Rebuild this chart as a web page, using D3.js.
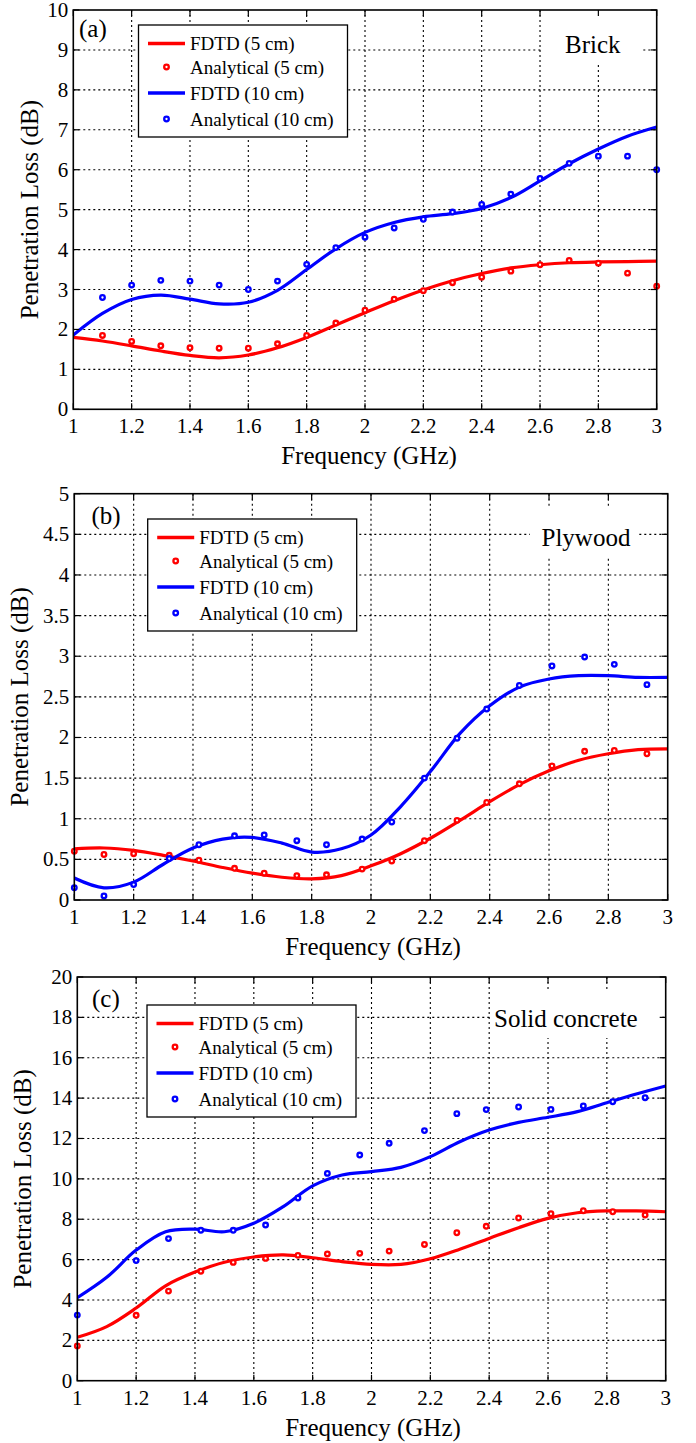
<!DOCTYPE html>
<html lang="en">
<head>
<meta charset="utf-8">
<script src="https://d3js.org/d3.v7.min.js"></script>
<style>
  body { margin: 0; background: #fff; }
</style>
</head>
<body>
<svg id="chart"></svg>
<script type="text/javascript">
// frequency samples of the FDTD curves (GHz)
const fdtdFreq = [1.0, 1.1, 1.2, 1.3, 1.4, 1.5, 1.6, 1.7, 1.8, 1.9, 2.0,
                  2.1, 2.2, 2.3, 2.4, 2.5, 2.6, 2.7, 2.8, 2.9, 3.0];
const xTicks = [1, 1.2, 1.4, 1.6, 1.8, 2, 2.2, 2.4, 2.6, 2.8, 3];

// (a) brick
const brickFdtd5  = [1.80, 1.71, 1.59, 1.46, 1.35, 1.29, 1.36, 1.54, 1.80, 2.11, 2.42,
                     2.72, 2.99, 3.22, 3.40, 3.54, 3.62, 3.67, 3.69, 3.70, 3.71];
const brickFdtd10 = [1.86, 2.40, 2.75, 2.86, 2.76, 2.64, 2.68, 2.98, 3.50, 4.02, 4.43,
                     4.68, 4.82, 4.90, 5.03, 5.30, 5.72, 6.15, 6.52, 6.84, 7.07];
const brickAnaFreq = [1.1, 1.2, 1.3, 1.4, 1.5, 1.6, 1.7, 1.8, 1.9, 2.0,
                      2.1, 2.2, 2.3, 2.4, 2.5, 2.6, 2.7, 2.8, 2.9, 3.0];
const brickAna5  = [1.85, 1.70, 1.59, 1.54, 1.53, 1.53, 1.64, 1.85, 2.16, 2.48,
                    2.76, 2.97, 3.17, 3.31, 3.46, 3.62, 3.73, 3.66, 3.41, 3.08];
const brickAna10 = [2.80, 3.11, 3.23, 3.21, 3.11, 3.00, 3.21, 3.63, 4.05, 4.31,
                    4.54, 4.76, 4.94, 5.13, 5.39, 5.78, 6.16, 6.34, 6.34, 6.00];
const brickYTicks = [0, 1, 2, 3, 4, 5, 6, 7, 8, 9, 10];

// (b) plywood
const plyFdtd5  = [0.63, 0.64, 0.61, 0.55, 0.48, 0.40, 0.33, 0.28, 0.26, 0.30, 0.42,
                   0.57, 0.76, 0.98, 1.21, 1.42, 1.59, 1.72, 1.80, 1.85, 1.86];
const plyFdtd10 = [0.27, 0.15, 0.22, 0.44, 0.64, 0.75, 0.77, 0.70, 0.59, 0.63, 0.80,
                   1.15, 1.58, 2.05, 2.39, 2.62, 2.72, 2.76, 2.76, 2.74, 2.74];
const plyAnaFreq = [1.00, 1.10, 1.20, 1.32, 1.42, 1.54, 1.64, 1.75, 1.85, 1.97,
                    2.07, 2.18, 2.29, 2.39, 2.50, 2.61, 2.72, 2.82, 2.93];
const plyAna5  = [0.60, 0.56, 0.57, 0.55, 0.49, 0.39, 0.33, 0.30, 0.31, 0.38,
                  0.48, 0.73, 0.98, 1.20, 1.43, 1.65, 1.83, 1.84, 1.80];
const plyAna10 = [0.15, 0.05, 0.19, 0.51, 0.68, 0.79, 0.80, 0.73, 0.68, 0.75,
                  0.96, 1.50, 1.99, 2.35, 2.64, 2.88, 2.99, 2.90, 2.65];
const plyYTicks = [0, 0.5, 1, 1.5, 2, 2.5, 3, 3.5, 4, 4.5, 5];

// (c) solid concrete
const concFdtd5  = [2.15, 2.68, 3.60, 4.70, 5.38, 5.87, 6.13, 6.23, 6.09, 5.90, 5.76,
                    5.76, 6.04, 6.51, 7.05, 7.58, 8.04, 8.32, 8.41, 8.41, 8.37];
const concFdtd10 = [4.11, 5.12, 6.47, 7.38, 7.51, 7.38, 7.80, 8.62, 9.65, 10.19, 10.36,
                    10.57, 11.10, 11.84, 12.42, 12.80, 13.05, 13.33, 13.77, 14.20, 14.60];
const concAnaFreq = [1.00, 1.20, 1.31, 1.42, 1.53, 1.64, 1.75, 1.85, 1.96,
                     2.06, 2.18, 2.29, 2.39, 2.50, 2.61, 2.72, 2.82, 2.93];
const concAna5  = [1.72, 3.24, 4.44, 5.42, 5.86, 6.06, 6.21, 6.28, 6.31,
                   6.42, 6.75, 7.33, 7.65, 8.06, 8.27, 8.42, 8.37, 8.21];
const concAna10 = [3.25, 5.95, 7.04, 7.45, 7.45, 7.71, 9.05, 10.27, 11.18,
                   11.76, 12.39, 13.23, 13.43, 13.56, 13.44, 13.61, 13.82, 14.02];
const concYTicks = [0, 2, 4, 6, 8, 10, 12, 14, 16, 18, 20];

const legendLabels = ["FDTD (5 cm)", "Analytical (5 cm)", "FDTD (10 cm)", "Analytical (10 cm)"];
const RED = "#ff0000", BLUE = "#0000ff";
const FONT = "Liberation Serif, Times New Roman, Times, serif";

const width = 696, height = 1443;
const svg = d3.select("#chart").attr("width", width).attr("height", height)
    .attr("font-family", FONT);
svg.append("rect").attr("width", width).attr("height", height).attr("fill", "#fff");

const panels = [
  { id: "a", tag: "(a)", name: "Brick", yMax: 10, yTicks: brickYTicks,
    box: [73.3, 656.7, 10, 409.3], f5: brickFdtd5, f10: brickFdtd10,
    anaX: brickAnaFreq, a5: brickAna5, a10: brickAna10,
    tagPos: [79, 37], namePos: [565, 53], nameBg: [541, 10, 102, 55],
    legend: [138.5, 25], ylabX: 29, xlabX: 369 },
  { id: "b", tag: "(b)", name: "Plywood", yMax: 5, yTicks: plyYTicks,
    box: [74.3, 667.7, 493.7, 900], f5: plyFdtd5, f10: plyFdtd10,
    anaX: plyAnaFreq, a5: plyAna5, a10: plyAna10,
    tagPos: [91.5, 524], namePos: [541.5, 546], nameBg: [530, 507, 107, 50],
    legend: [147.7, 519], ylabX: 19, xlabX: 373 },
  { id: "c", tag: "(c)", name: "Solid concrete", yMax: 20, yTicks: concYTicks,
    box: [77.3, 665.7, 977, 1380.7], f5: concFdtd5, f10: concFdtd10,
    anaX: concAnaFreq, a5: concAna5, a10: concAna10,
    tagPos: [92, 1007], namePos: [494, 1027], nameBg: [491, 990, 169, 48],
    legend: [147, 1005], ylabX: 22.5, xlabX: 373 }
];

panels.forEach(drawPanel);

function drawPanel(p) {
  const [x0, x1, y0, y1] = p.box;
  const x = d3.scaleLinear().domain([1, 3]).range([x0, x1]);
  const y = d3.scaleLinear().domain([0, p.yMax]).range([y1, y0]);
  const g = svg.append("g");

  // dotted grid
  g.selectAll(".gx").data(xTicks.slice(1, -1)).enter().append("line")
    .attr("x1", d => x(d)).attr("x2", d => x(d)).attr("y1", y0).attr("y2", y1)
    .attr("stroke", "#000").attr("stroke-width", 1.1).attr("stroke-dasharray", "2,3");
  g.selectAll(".gy").data(p.yTicks.slice(1, -1)).enter().append("line")
    .attr("y1", d => y(d)).attr("y2", d => y(d)).attr("x1", x0).attr("x2", x1)
    .attr("stroke", "#000").attr("stroke-width", 1.1).attr("stroke-dasharray", "2,3");

  // white patch behind the material name
  g.append("rect").attr("x", p.nameBg[0]).attr("y", p.nameBg[1])
    .attr("width", p.nameBg[2]).attr("height", p.nameBg[3]).attr("fill", "#fff");

  // data
  g.append("clipPath").attr("id", "clip-" + p.id).append("rect")
    .attr("x", x0).attr("y", y0).attr("width", x1 - x0).attr("height", y1 - y0);
  const line = d3.line().x(d => x(d[0])).y(d => y(d[1])).curve(d3.curveCatmullRom.alpha(0.5));
  const series = [
    { line: p.f5, ana: p.a5, color: RED },
    { line: p.f10, ana: p.a10, color: BLUE }
  ];
  series.forEach(s => {
    g.append("path")
      .datum(d3.zip(fdtdFreq, s.line))
      .attr("d", line)
      .attr("clip-path", "url(#clip-" + p.id + ")")
      .attr("fill", "none").attr("stroke", s.color).attr("stroke-width", 3.2);
    g.append("g").selectAll("circle")
      .data(d3.zip(p.anaX, s.ana)).enter().append("circle")
      .attr("cx", d => x(d[0])).attr("cy", d => y(d[1])).attr("r", 2.3)
      .attr("fill", "#fff").attr("stroke", s.color).attr("stroke-width", 2.3);
  });

  // frame and inward ticks on all sides
  g.append("rect").attr("x", x0).attr("y", y0).attr("width", x1 - x0).attr("height", y1 - y0)
    .attr("fill", "none").attr("stroke", "#000").attr("stroke-width", 1.6);
  const tk = 6;
  xTicks.forEach(t => {
    g.append("line").attr("x1", x(t)).attr("x2", x(t)).attr("y1", y1).attr("y2", y1 - tk)
      .attr("stroke", "#000").attr("stroke-width", 1.2);
    g.append("line").attr("x1", x(t)).attr("x2", x(t)).attr("y1", y0).attr("y2", y0 + tk)
      .attr("stroke", "#000").attr("stroke-width", 1.2);
  });
  p.yTicks.forEach(t => {
    g.append("line").attr("y1", y(t)).attr("y2", y(t)).attr("x1", x0).attr("x2", x0 + tk)
      .attr("stroke", "#000").attr("stroke-width", 1.2);
    g.append("line").attr("y1", y(t)).attr("y2", y(t)).attr("x1", x1).attr("x2", x1 - tk)
      .attr("stroke", "#000").attr("stroke-width", 1.2);
  });

  // tick labels
  g.selectAll(".xl").data(xTicks).enter().append("text")
    .attr("x", d => x(d)).attr("y", y1 + 24)
    .attr("text-anchor", "middle").attr("font-size", 21).attr("font-family", FONT)
    .text(d => String(+d.toFixed(1)));
  g.selectAll(".yl").data(p.yTicks).enter().append("text")
    .attr("x", x0 - 5).attr("y", d => y(d) + 7)
    .attr("text-anchor", "end").attr("font-size", 21).attr("font-family", FONT)
    .text(d => String(d));

  // axis titles
  g.append("text").attr("x", p.xlabX).attr("y", y1 + 55)
    .attr("text-anchor", "middle").attr("font-size", 25).attr("font-family", FONT)
    .text("Frequency (GHz)");
  g.append("text")
    .attr("transform", "translate(" + p.ylabX + "," + ((y0 + y1) / 2) + ") rotate(-90)")
    .attr("text-anchor", "middle").attr("dominant-baseline", "central")
    .attr("font-size", 25).attr("font-family", FONT).text("Penetration Loss (dB)");

  g.append("text").attr("x", p.tagPos[0]).attr("y", p.tagPos[1])
    .attr("font-size", 25).attr("font-family", FONT).text(p.tag);
  g.append("text").attr("x", p.namePos[0]).attr("y", p.namePos[1])
    .attr("font-size", 25).attr("font-family", FONT).text(p.name);

  // legend
  const [lx, ly] = p.legend;
  const lg = g.append("g").attr("transform", "translate(" + lx + "," + ly + ")");
  lg.append("rect").attr("width", 209).attr("height", 112)
    .attr("fill", "#fff").attr("stroke", "#000").attr("stroke-width", 1.3);
  const rowY = [18.5, 42, 68, 94];
  legendLabels.forEach((lab, i) => {
    const col = i < 2 ? RED : BLUE;
    if (i % 2 === 0) {
      lg.append("line").attr("x1", 9.5).attr("x2", 46.5).attr("y1", rowY[i]).attr("y2", rowY[i])
        .attr("stroke", col).attr("stroke-width", 3.4);
    } else {
      lg.append("circle").attr("cx", 28).attr("cy", rowY[i]).attr("r", 2.3)
        .attr("fill", "#fff").attr("stroke", col).attr("stroke-width", 2.3);
    }
    lg.append("text").attr("x", 51.5).attr("y", rowY[i] + 6.5)
      .attr("font-size", 19).attr("font-family", FONT).text(lab);
  });
}
</script>
</body>
</html>
